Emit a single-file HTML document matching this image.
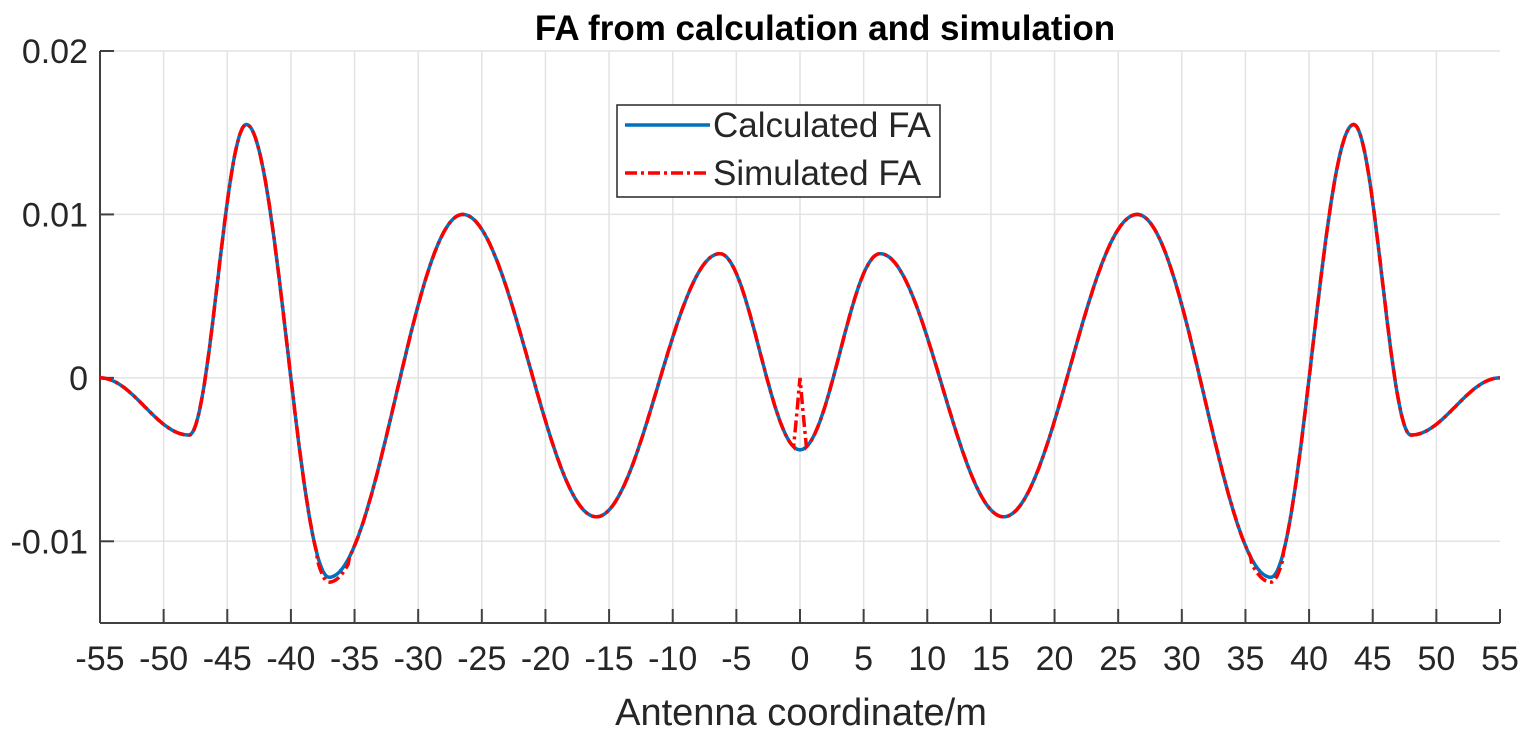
<!DOCTYPE html>
<html><head><meta charset="utf-8"><style>
body{margin:0;background:#fff}
svg text{font-family:"Liberation Sans",Arial,sans-serif;fill:#262626}
</style></head><body>
<svg id="s" width="1525" height="729" xmlns="http://www.w3.org/2000/svg">
<g id="grid" stroke="#e3e3e3" stroke-width="1.5"></g>
<g id="ax" stroke="#404040" stroke-width="2" fill="none"></g>
<g id="lab" font-size="34" text-anchor="middle"></g>
<path id="calc" fill="none" stroke="#0072BD" stroke-width="3.5"/>
<path id="sim" fill="none" stroke="#FF0000" stroke-width="3.5" stroke-dasharray="12,4,3,4"/>
<text x="825" y="40" font-size="35" font-weight="bold" text-anchor="middle" style="fill:#000">FA from calculation and simulation</text>
<text x="801" y="725" font-size="38" text-anchor="middle">Antenna coordinate/m</text>
<rect x="617" y="105" width="323" height="92" fill="#fff" stroke="#262626" stroke-width="1.5"/>
<line x1="625" y1="125" x2="710" y2="125" stroke="#0072BD" stroke-width="3.5"/>
<line x1="625" y1="173" x2="710" y2="173" stroke="#FF0000" stroke-width="3.5" stroke-dasharray="12,4,3,4"/>
<text x="713" y="137" font-size="35">Calculated FA</text>
<text x="713" y="185" font-size="35">Simulated FA</text>
</svg>
<script>
var X0=100,X1=1500,Y0=51,Y1=623;
function px(x){return X0+(x+55)/110*(X1-X0);}
function py(y){return Y0+(0.02-y)/0.035*(Y1-Y0);}
var g=document.getElementById('grid'),ax=document.getElementById('ax'),lab=document.getElementById('lab');
var ns="http://www.w3.org/2000/svg";
function el(p,t,a,txt){var e=document.createElementNS(ns,t);for(var k in a)e.setAttribute(k,a[k]);if(txt)e.textContent=txt;p.appendChild(e);return e;}
for(var x=-55;x<=55;x+=5){var X=px(x);
 if(x>-55&&x<55)el(g,'line',{x1:X,y1:Y0,x2:X,y2:Y1});
 el(ax,'line',{x1:X,y1:Y1,x2:X,y2:Y1-14});
 el(lab,'text',{x:X,y:670},String(x));}
[0.02,0.01,0,-0.01].forEach(function(v,i){var Y=py(v);
 el(g,'line',{x1:X0,y1:Y,x2:X1,y2:Y});
 el(ax,'line',{x1:X0,y1:Y,x2:X0+14,y2:Y});
 el(lab,'text',{x:88,y:Y+12,'text-anchor':'end'},['0.02','0.01','0','-0.01'][i]);});
el(ax,'line',{x1:X0,y1:Y0,x2:X0,y2:Y1});
el(ax,'line',{x1:X0,y1:Y1,x2:X1,y2:Y1});
var k=[[0,-0.0044],[6.3,0.0076],[16,-0.0085],[26.5,0.0100],[37,-0.0122],[43.5,0.0155],[48,-0.0035],[55,0]];
function f(x,sim){var a=Math.abs(x);
 for(var i=0;i<k.length-1;i++){if(a<=k[i+1][0]){var t=(a-k[i][0])/(k[i+1][0]-k[i][0]);var s=(1-Math.cos(Math.PI*t))/2;var y=k[i][1]+(k[i+1][1]-k[i][1])*s;
  if(sim){if((i==3&&t>0.85)||(i==4&&t<0.15))y-=0.0003;if(a<0.5)y+=0.0044*(1-a/0.5);}
  return y;}}
 return 0;}
function path(sim){var d='';for(var x=-55;x<=55.001;x+=0.1){d+=(d?'L':'M')+px(x).toFixed(1)+','+py(f(x,sim)).toFixed(1);}return d;}
document.getElementById('calc').setAttribute('d',path(false));
document.getElementById('sim').setAttribute('d',path(true));
</script>
</body></html>
